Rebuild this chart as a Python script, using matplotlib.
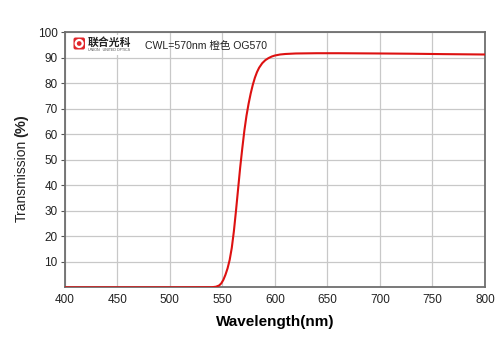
import matplotlib
matplotlib.use("Agg")
import matplotlib.pyplot as plt
from matplotlib.patches import Rectangle, Circle, FancyBboxPatch

# transmission curve (wavelength nm -> %)
wavelength = [400, 450, 500, 540, 544, 547, 549, 551, 553, 555, 557, 559, 561,
              563, 565, 567, 569, 571, 573, 575, 577, 579, 581, 583, 585, 588,
              591, 594, 597, 600, 605, 610, 620, 640, 660, 680, 700, 730, 760,
              800]
transmission = [0.05, 0.05, 0.05, 0.1, 0.3, 0.8, 1.6, 3.0, 5.0, 7.5, 10.8, 15.5,
                22.0, 30.0, 38.5, 47.0, 54.5, 61.5, 67.3, 72.0, 76.0, 79.4, 82.2,
                84.4, 86.1, 87.9, 89.1, 89.9, 90.5, 90.9, 91.3, 91.5, 91.7,
                91.8, 91.8, 91.75, 91.7, 91.6, 91.45, 91.3]

x_ticks = [400, 450, 500, 550, 600, 650, 700, 750, 800]
y_ticks = [10, 20, 30, 40, 50, 60, 70, 80, 90, 100]

plt.rcParams["font.family"] = ["Liberation Sans", "Noto Sans CJK SC", "DejaVu Sans"]

fig = plt.figure(figsize=(5.0, 3.53), dpi=100)
ax = fig.add_axes([0.1294, 0.1856, 0.8406, 0.7229])

ax.plot(wavelength, transmission, color="#dd1111", linewidth=1.5, zorder=3)

ax.set_xlim(400, 800)
ax.set_ylim(0, 100)
ax.set_xticks(x_ticks)
ax.set_yticks(y_ticks)
ax.tick_params(axis="x", length=0, labelsize=8.5, pad=5, colors="#222222")
ax.tick_params(axis="y", length=3, width=0.8, labelsize=8.5, pad=2,
               color="#555555", labelcolor="#222222")
ax.grid(True, color="#c8c8c8", linewidth=0.9)
for side in ax.spines.values():
    side.set_color("#6e6e6e")
    side.set_linewidth(1.3)

ax.set_xlabel("Wavelength(nm)", fontsize=11, fontweight="bold", labelpad=6)

# y label: plain "Transmission" followed by bold "(%)"
fig.text(0.0434, 0.487, "Transmission", rotation=90, ha="center", va="center",
         fontsize=10, color="#222222")
fig.text(0.0434, 0.612, "(%)", rotation=90, ha="center", va="bottom",
         fontsize=10.5, fontweight="bold", color="#222222")

# logo and caption at the top-left of the plot
px = fig.dpi_scale_trans
def inch(x, y):
    return (x / 100.0, (353 - y) / 100.0)

fig.add_artist(Rectangle(inch(70, 55), 0.6, 0.2, transform=px,
                         facecolor="white", edgecolor="none", zorder=4))
fig.add_artist(FancyBboxPatch(inch(73.5, 49.5), 0.115, 0.12,
                              boxstyle="round,pad=0,rounding_size=0.02",
                              transform=px, facecolor="#e0262b",
                              edgecolor="none", zorder=5))
fig.add_artist(Circle(inch(79.2, 43.5), 0.035, transform=px, facecolor="none",
                      edgecolor="white", linewidth=1.6, zorder=6))
fig.text(88 / 500, 1 - 42.5 / 353, "联合光科", ha="left", va="center",
         fontsize=7.8, fontweight="bold", color="#222222", zorder=6)
fig.text(88 / 500, 1 - 50 / 353, "UNION   UNITED OPTICS", ha="left", va="center",
         fontsize=2.6, color="#444444", zorder=6)
fig.text(145 / 500, 1 - 45.5 / 353, "CWL=570nm 橙色 OG570", ha="left",
         va="center", fontsize=7.6, color="#222222", zorder=6)

fig.savefig("out.png", dpi=100)
